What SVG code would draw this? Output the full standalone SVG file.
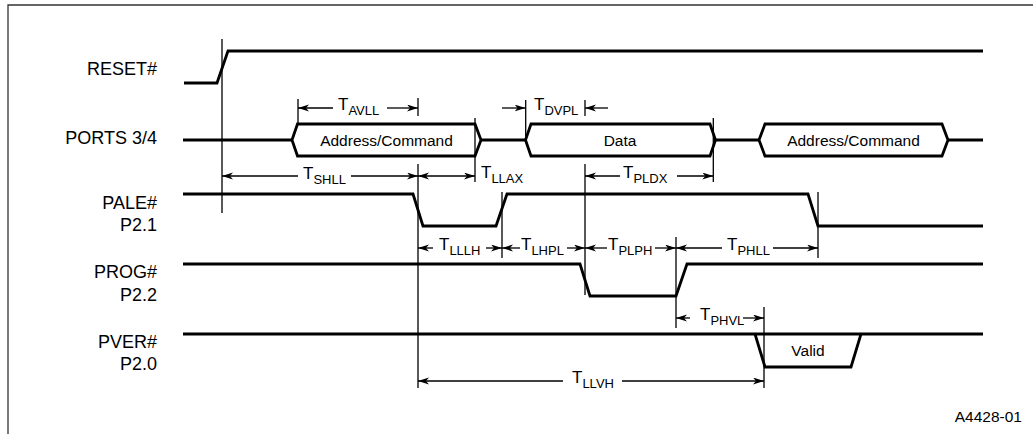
<svg xmlns="http://www.w3.org/2000/svg" width="1033" height="434" viewBox="0 0 1033 434">
<style>
.sig{fill:none;stroke:#000;stroke-width:2.8;stroke-linejoin:miter}
.thin{fill:none;stroke:#000;stroke-width:1.3}
.arr{fill:none;stroke:#000;stroke-width:1.3;marker-end:url(#ah)}
.dbl{fill:none;stroke:#000;stroke-width:1.3;marker-end:url(#ah);marker-start:url(#ah)}
.lbl{font-family:"Liberation Sans",Arial,sans-serif;font-size:18px;fill:#000;text-anchor:end}
.in{font-family:"Liberation Sans",Arial,sans-serif;font-size:15.5px;fill:#000;text-anchor:middle}
.t{font-family:"Liberation Sans",Arial,sans-serif;font-size:17px;fill:#000}
.s{font-size:13px}
.frame{fill:none;stroke:#333;stroke-width:1.3}
</style>
<defs>
<marker id="ah" markerUnits="userSpaceOnUse" markerWidth="12" markerHeight="8" refX="11" refY="3.5" orient="auto-start-reverse">
<path d="M0,0 L11,3.5 L0,7 L3,3.5 Z" fill="#000"/>
</marker>
</defs>
<rect width="1033" height="434" fill="#fff"/>
<path class="frame" d="M8,434 L8,5 L1033,5"/>

<g id="reset">
<text class="lbl" x="157" y="75">RESET#</text>
<path class="sig" d="M184,83 L217,83 L228,51 L983,51"/>
</g>

<g id="ports">
<text class="lbl" x="157" y="144">PORTS 3/4</text>
<path class="sig" d="M183,140 L292,140 M481,140 L525.5,140 M715.5,140 L759,140 M948,140 L983,140"/>
<g id="bus-addr1">
<path class="sig" d="M292,140 L297.5,124 L475,124 L481,140 L475,156 L297.5,156 Z"/>
<text class="in" x="386.5" y="146">Address/Command</text>
</g>
<g id="bus-data">
<path class="sig" d="M525.5,140 L531,124 L710,124 L715.5,140 L710,156 L531,156 Z"/>
<text class="in" x="620" y="146">Data</text>
</g>
<g id="bus-addr2">
<path class="sig" d="M759,140 L765,124 L942,124 L948,140 L942,156 L765,156 Z"/>
<text class="in" x="853.5" y="146">Address/Command</text>
</g>
</g>

<g id="pale">
<text class="lbl" x="157" y="209">PALE#</text>
<text class="lbl" x="157" y="231">P2.1</text>
<path class="sig" d="M183,194 L413,194 L423,226 L496,226 L507,194 L808,194 L818,226 L983,226"/>
</g>

<g id="prog">
<text class="lbl" x="157" y="278">PROG#</text>
<text class="lbl" x="157" y="301">P2.2</text>
<path class="sig" d="M183,264 L580,264 L590,296 L676,296 L687,264 L983,264"/>
</g>

<g id="pver">
<text class="lbl" x="157" y="348">PVER#</text>
<text class="lbl" x="157" y="370">P2.0</text>
<path class="sig" d="M183,334 L983,334 M755,334 L765,367 L851,367 L861,334"/>
<text class="in" x="808" y="356">Valid</text>
</g>

<g id="connectors">
<!-- reference lines -->
<path class="thin" d="M222,39 V213 M298,99 V124 M418,98 V116 M418,164 V388 M475,118 V182 M525.7,100 V140 M585,100 V116 M585,164 V295 M713.3,118 V182 M502,192 V258 M818,192 V258 M676,237 V328 M764,307 V388"/>
<!-- T_AVLL -->
<line class="arr" x1="333" y1="108" x2="298" y2="108"/>
<line class="arr" x1="387" y1="108" x2="418" y2="108"/>
<text class="t" x="338" y="110">T<tspan class="s" dy="5">AVLL</tspan></text>
<!-- T_DVPL -->
<line class="arr" x1="502" y1="108" x2="525.5" y2="108"/>
<line class="arr" x1="608" y1="108" x2="585" y2="108"/>
<text class="t" x="534" y="110">T<tspan class="s" dy="5">DVPL</tspan></text>
<!-- T_SHLL -->
<line class="arr" x1="298" y1="176" x2="222" y2="176"/>
<line class="arr" x1="351" y1="176" x2="418" y2="176"/>
<text class="t" x="303" y="179">T<tspan class="s" dy="5">SHLL</tspan></text>
<!-- T_LLAX -->
<line class="dbl" x1="418" y1="176" x2="475" y2="176"/>
<text class="t" x="481" y="178">T<tspan class="s" dy="5">LLAX</tspan></text>
<!-- T_PLDX -->
<line class="arr" x1="620" y1="176" x2="585" y2="176"/>
<line class="arr" x1="677" y1="176" x2="713.3" y2="176"/>
<text class="t" x="623" y="178">T<tspan class="s" dy="5">PLDX</tspan></text>
<!-- T_LLLH -->
<line class="arr" x1="433" y1="248" x2="418" y2="248"/>
<line class="arr" x1="486" y1="248" x2="502" y2="248"/>
<text class="t" x="439" y="250">T<tspan class="s" dy="5">LLLH</tspan></text>
<!-- T_LHPL -->
<line class="arr" x1="520" y1="248" x2="502" y2="248"/>
<line class="arr" x1="567" y1="248" x2="585" y2="248"/>
<text class="t" x="521" y="250">T<tspan class="s" dy="5">LHPL</tspan></text>
<!-- T_PLPH -->
<line class="arr" x1="607" y1="248" x2="585" y2="248"/>
<line class="arr" x1="655" y1="248" x2="676" y2="248"/>
<text class="t" x="608" y="250">T<tspan class="s" dy="5">PLPH</tspan></text>
<!-- T_PHLL -->
<line class="arr" x1="722" y1="248" x2="676" y2="248"/>
<line class="arr" x1="773" y1="248" x2="818" y2="248"/>
<text class="t" x="727" y="250">T<tspan class="s" dy="5">PHLL</tspan></text>
<!-- T_PHVL -->
<line class="arr" x1="690" y1="318" x2="676" y2="318"/>
<line class="arr" x1="743" y1="318" x2="764" y2="318"/>
<text class="t" x="700" y="320">T<tspan class="s" dy="5">PHVL</tspan></text>
<!-- T_LLVH -->
<line class="arr" x1="563" y1="381" x2="418" y2="381"/>
<line class="arr" x1="622" y1="381" x2="764" y2="381"/>
<text class="t" x="572" y="383">T<tspan class="s" dy="5">LLVH</tspan></text>
</g>

<text class="in" x="1022" y="422" text-anchor="end" style="text-anchor:end">A4428-01</text>
</svg>
